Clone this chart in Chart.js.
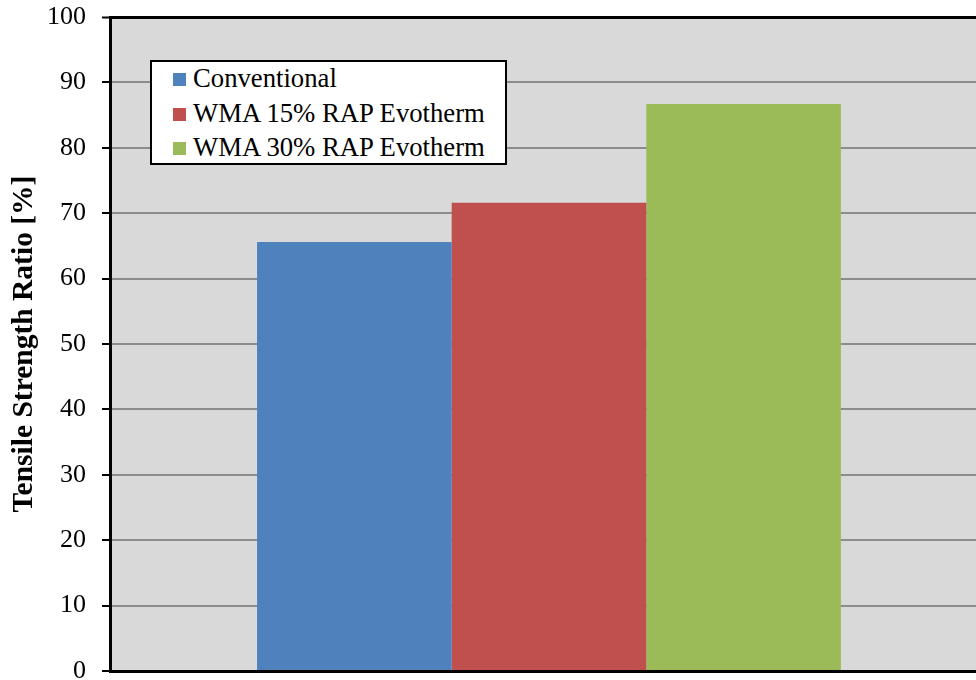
<!DOCTYPE html>
<html>
<head>
<meta charset="utf-8">
<script src="https://cdn.jsdelivr.net/npm/chart.js@4"></script>
<style>
  body { margin: 0; overflow: hidden; background: #fff; }
  #wrap { position: relative; width: 976px; height: 680px; overflow: hidden; }
  #legend {
    position: absolute; left: 150px; top: 60px; width: 353px; height: 101px;
    background: #fff; border: 2px solid #000; box-sizing: content-box;
    font-family: "Liberation Serif", "Times New Roman", serif; font-size: 26.7px; color: #000;
  }
  .item { position: absolute; left: 21px; height: 30px; line-height: 30px; white-space: nowrap; }
  .box { display: inline-block; width: 13px; height: 13px; margin-right: 7px; vertical-align: 1px; }
</style>
</head>
<body>
<div id="wrap">
  <canvas id="c" width="990" height="680"></canvas>
  <div id="legend"></div>
</div>
<script>
// values
var categories = [''];
var seriesNames = ['Conventional', 'WMA 15% RAP Evotherm', 'WMA 30% RAP Evotherm'];
var seriesValues = [65.6, 71.6, 86.7];
var seriesColors = ['#4F81BD', '#C0504D', '#9BBB59'];

var plotBg = {
  id: 'plotBg',
  beforeDraw: function(chart) {
    var a = chart.chartArea, ctx = chart.ctx;
    ctx.save();
    ctx.fillStyle = '#D9D9D9';
    ctx.fillRect(a.left, a.top, a.right - a.left, a.bottom - a.top);
    ctx.restore();
  }
};

var ctx = document.getElementById('c').getContext('2d');
var chart = new Chart(ctx, {
  type: 'bar',
  data: {
    labels: categories,
    datasets: seriesNames.map(function(name, i) {
      return {
        label: name,
        data: [seriesValues[i]],
        backgroundColor: seriesColors[i],
        barPercentage: 1,
        categoryPercentage: 0.665
      };
    })
  },
  options: {
    responsive: false,
    animation: false,
    layout: { padding: { top: 17, bottom: 9, left: 0, right: 2 } },
    plugins: { legend: { display: false }, tooltip: { enabled: false } },
    scales: {
      x: {
        ticks: { display: false },
        grid: { display: false },
        border: { color: '#000', width: 3 },
        afterFit: function(s) { s.height = 0; s.paddingLeft = 0; s.paddingRight = 0; }
      },
      y: {
        min: 0, max: 100,
        ticks: {
          stepSize: 10,
          color: '#000',
          padding: 16,
          font: { family: '"Liberation Serif", "Times New Roman", serif', size: 26 }
        },
        grid: {
          color: function(c) { return c.tick && c.tick.value === 100 ? '#000' : '#8C8C8C'; },
          lineWidth: function(c) { return c.tick && c.tick.value === 100 ? 3 : 2; },
          tickColor: '#000',
          tickWidth: 2,
          tickLength: 8
        },
        border: { color: '#000', width: 3 },
        title: {
          display: true,
          text: 'Tensile Strength Ratio [%]',
          color: '#000',
          padding: { top: 7, bottom: 4 },
          font: { family: '"Liberation Serif", "Times New Roman", serif', size: 29.5, weight: 'bold' }
        },
        afterFit: function(s) { s.width = 110; s.paddingTop = 0; s.paddingBottom = 0; }
      }
    }
  },
  plugins: [plotBg]
});

var legend = document.getElementById('legend');
chart.data.datasets.forEach(function(ds, i) {
  var row = document.createElement('div');
  row.className = 'item';
  row.style.top = (1 + i * 34.5) + 'px';
  row.innerHTML = '<span class="box" style="background:' + ds.backgroundColor + '"></span>' + ds.label;
  legend.appendChild(row);
});
</script>
</body>
</html>
